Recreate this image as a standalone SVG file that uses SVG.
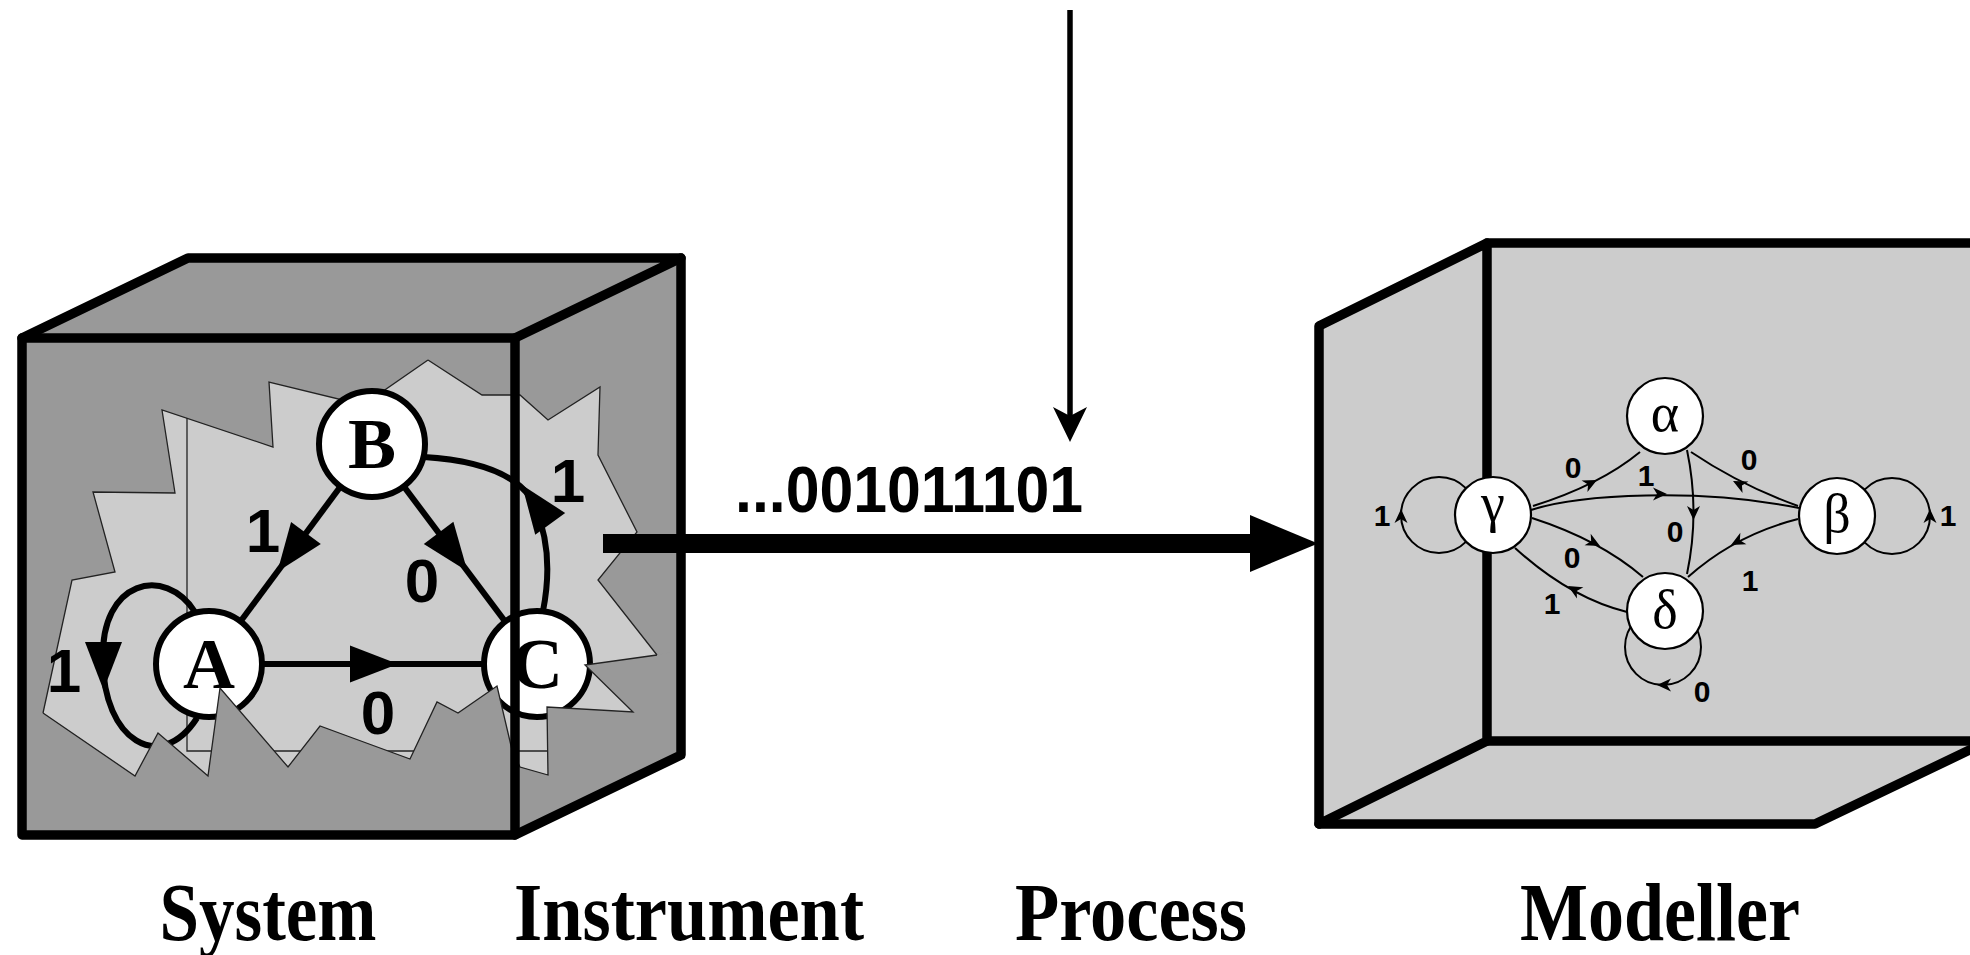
<svg xmlns="http://www.w3.org/2000/svg" xmlns:xlink="http://www.w3.org/1999/xlink" width="1970" height="955" viewBox="0 0 1970 955">
  <defs>
    <style>
      .dark { fill: #999999; }
      .light { fill: #cccccc; }
      .edge-thick { fill: none; stroke: #000; stroke-width: 9.5; stroke-linejoin: round; stroke-linecap: round; }
      .thin { fill: none; stroke: #222; stroke-width: 1.3; stroke-linejoin: miter; }
      .sys-edge { fill: none; stroke: #000; stroke-width: 6; }
      .sys-node { fill: #fff; stroke: #000; stroke-width: 6; }
      .sys-letter { font-family: "Liberation Serif", "Times New Roman", serif; font-weight: bold; font-size: 72px; text-anchor: middle; }
      .sys-label { font-family: "Liberation Sans", Arial, sans-serif; font-weight: bold; font-size: 62px; text-anchor: middle; }
      .mod-edge { fill: none; stroke: #000; stroke-width: 2; }
      .mod-node { fill: #fff; stroke: #000; stroke-width: 2.2; }
      .mod-letter { font-family: "Liberation Serif", "Times New Roman", serif; font-size: 54px; text-anchor: middle; }
      .mod-label { font-family: "Liberation Sans", Arial, sans-serif; font-weight: bold; font-size: 30px; text-anchor: middle; }
      .caption { font-family: "Liberation Serif", "Times New Roman", serif; font-weight: bold; font-size: 82px; text-anchor: middle; }
      .stream { font-family: "Liberation Sans", Arial, sans-serif; font-weight: bold; font-size: 64px; }
    </style>
    <path id="bigHead" d="M0,0 L-48,-18.5 L-48,18.5 Z" fill="#000"/>
    <path id="smallHead" d="M0,0 L-14,-6.5 L-10,0 L-14,6.5 Z" fill="#000"/>
  </defs>

  <rect width="1970" height="955" fill="#fff"/>

  <!-- System: cut-away box -->
  <g id="system-box">
    <polygon class="dark" points="22,338 188,258 681,258 515,338"/>
    <rect class="dark" x="22" y="338" width="493" height="497"/>
    <polygon class="dark" points="515,338 681,258 681,755 515,835"/>
    <!-- broken opening -->
    <polygon class="light" points="428,360 482,395 520,395 548,420 600,387 598,455 637,532 598,580 657,655 585,665 633,712 547,707 548,775 520,767 512,750 497,686 458,713 437,702 410,759 350,737 320,726 288,767 220,688 208,776 158,733 135,776 43,713 72,580 115,572 93,492 175,493 162,410 273,447 269,382 363,405"/>
    <polyline class="thin" points="428,360 482,395 520,395 548,420 600,387 598,455 637,532 598,580 657,655"/>
    <polyline class="thin" points="43,713 72,580 115,572 93,492 175,493 162,410 273,447 269,382 363,405 428,360"/>
    <!-- back wall edges seen through the opening -->
    <polyline class="thin" points="187,418 187,751 548,751"/>
  </g>

  <g id="system-connectors">
    <line class="sys-edge" x1="372" y1="444" x2="209" y2="664"/>
    <line class="sys-edge" x1="372" y1="444" x2="537" y2="664"/>
    <line class="sys-edge" x1="209" y1="664" x2="537" y2="664"/>
    <path class="sys-edge" d="M543,611 Q556,545 530,497 Q505,462 424,457"/>
    <path class="sys-edge" d="M195,612 C165,565 100,580 103,660 C103,740 160,775 197,718"/>
    <use xlink:href="#bigHead" transform="translate(277.4,571.7) rotate(126.5)"/>
    <use xlink:href="#bigHead" transform="translate(467.4,571.2) rotate(53.1)"/>
    <use xlink:href="#bigHead" transform="translate(398,664)"/>
    <use xlink:href="#bigHead" transform="translate(522,485) rotate(-126)"/>
    <use xlink:href="#bigHead" transform="translate(103.5,690) rotate(90)"/>
    <text class="sys-label" x="263" y="552">1</text>
    <text class="sys-label" x="422" y="602">0</text>
    <text class="sys-label" x="378" y="734">0</text>
    <text class="sys-label" x="568" y="502">1</text>
    <text class="sys-label" x="64" y="692">1</text>
  </g>

  <g id="node-A">
    <circle class="sys-node" cx="209" cy="664" r="53"/>
    <text class="sys-letter" x="209" y="688">A</text>
  </g>
  <g id="node-B">
    <circle class="sys-node" cx="372" cy="444" r="53"/>
    <text class="sys-letter" x="372" y="468">B</text>
  </g>
  <g id="node-C">
    <circle class="sys-node" cx="537" cy="664" r="53"/>
    <text class="sys-letter" x="537" y="688">C</text>
  </g>

  <!-- front wall fragments in front of the machine -->
  <g id="system-front">
    <polygon class="dark" points="657,655 585,665 633,712 547,707 548,775 520,767 512,750 497,686 458,713 437,702 410,759 350,737 320,726 288,767 220,688 208,776 158,733 135,776 43,713 22,713 22,835 515,835 681,755 681,650"/>
    <polyline class="thin" points="657,655 585,665 633,712 547,707 548,775 520,767 512,750 497,686 458,713 437,702 410,759 350,737 320,726 288,767 220,688 208,776 158,733 135,776 43,713"/>
    <polygon class="edge-thick" points="22,338 515,338 515,835 22,835"/>
    <polyline class="edge-thick" points="22,338 188,258 681,258 515,338"/>
    <polyline class="edge-thick" points="681,258 681,755 515,835"/>
  </g>

  <!-- Process: measurement stream -->
  <g id="process">
    <line x1="1070" y1="10" x2="1070" y2="418" stroke="#000" stroke-width="5.5"/>
    <polygon points="1070,442 1053,407 1070,416 1087,407" fill="#000"/>
    <rect x="603" y="534" width="648" height="19" fill="#000"/>
    <polygon points="1250,515 1318,543.5 1250,572" fill="#000"/>
    <text class="stream" x="735" y="512" textLength="348" lengthAdjust="spacingAndGlyphs">...001011101</text>
  </g>

  <!-- Modeller: open box -->
  <g id="modeller-box">
    <polygon class="light" points="1319,326 1487,243 1487,741 1319,824"/>
    <rect class="light" x="1487" y="243" width="490" height="498"/>
    <polygon class="light" points="1319,824 1487,741 1975,741 1975,747 1815,824"/>
    <polygon class="edge-thick" points="1319,326 1487,243 1487,741 1319,824"/>
    <line class="edge-thick" x1="1487" y1="243" x2="1980" y2="243"/>
    <line class="edge-thick" x1="1487" y1="741" x2="1980" y2="741"/>
    <polyline class="edge-thick" points="1319,824 1815,824 1980,745"/>
  </g>

  <g id="model-connectors">
    <circle class="mod-edge" cx="1439" cy="515" r="38"/>
    <circle class="mod-edge" cx="1892" cy="516" r="38"/>
    <circle class="mod-edge" cx="1663" cy="647" r="38"/>
    <path class="mod-edge" d="M1533,506 Q1600,485 1640,452"/>
    <path class="mod-edge" d="M1531,510 C1580,494 1700,488 1799,508"/>
    <path class="mod-edge" d="M1687,450 Q1700,512 1687,574"/>
    <path class="mod-edge" d="M1798,506 Q1740,485 1691,452"/>
    <path class="mod-edge" d="M1798,519 Q1735,535 1688,577"/>
    <path class="mod-edge" d="M1532,518 Q1600,540 1643,577"/>
    <path class="mod-edge" d="M1627,612 Q1570,598 1515,548"/>
    <use xlink:href="#smallHead" transform="translate(1597,480) rotate(-26.8)"/>
    <use xlink:href="#smallHead" transform="translate(1667,494)"/>
    <use xlink:href="#smallHead" transform="translate(1693.5,520) rotate(90)"/>
    <use xlink:href="#smallHead" transform="translate(1733,481) rotate(-153.2)"/>
    <use xlink:href="#smallHead" transform="translate(1731,545) rotate(152.2)"/>
    <use xlink:href="#smallHead" transform="translate(1600,546) rotate(28)"/>
    <use xlink:href="#smallHead" transform="translate(1568,586) rotate(-150.3)"/>
    <use xlink:href="#smallHead" transform="translate(1401,509) rotate(-90)"/>
    <use xlink:href="#smallHead" transform="translate(1930,509) rotate(-90)"/>
    <use xlink:href="#smallHead" transform="translate(1657,685) rotate(180)"/>
    <text class="mod-label" x="1382" y="526">1</text>
    <text class="mod-label" x="1948" y="526">1</text>
    <text class="mod-label" x="1702" y="702">0</text>
    <text class="mod-label" x="1573" y="478">0</text>
    <text class="mod-label" x="1646" y="486">1</text>
    <text class="mod-label" x="1749" y="470">0</text>
    <text class="mod-label" x="1675" y="542">0</text>
    <text class="mod-label" x="1572" y="568">0</text>
    <text class="mod-label" x="1552" y="614">1</text>
    <text class="mod-label" x="1750" y="591">1</text>
  </g>

  <g id="node-alpha">
    <circle class="mod-node" cx="1665" cy="416" r="38"/>
    <text class="mod-letter" x="1665" y="431">α</text>
  </g>
  <g id="node-beta">
    <circle class="mod-node" cx="1837" cy="516" r="38"/>
    <text class="mod-letter" x="1837" y="532">β</text>
  </g>
  <g id="node-gamma">
    <circle class="mod-node" cx="1493" cy="515" r="38"/>
    <text class="mod-letter" x="1493" y="521">γ</text>
  </g>
  <g id="node-delta">
    <circle class="mod-node" cx="1665" cy="611" r="38"/>
    <text class="mod-letter" x="1665" y="628">δ</text>
  </g>

  <g id="captions">
    <text class="caption" x="268" y="940" textLength="217" lengthAdjust="spacingAndGlyphs">System</text>
    <text class="caption" x="689" y="940" textLength="350" lengthAdjust="spacingAndGlyphs">Instrument</text>
    <text class="caption" x="1131" y="940" textLength="232" lengthAdjust="spacingAndGlyphs">Process</text>
    <text class="caption" x="1660" y="940" textLength="280" lengthAdjust="spacingAndGlyphs">Modeller</text>
  </g>
</svg>
